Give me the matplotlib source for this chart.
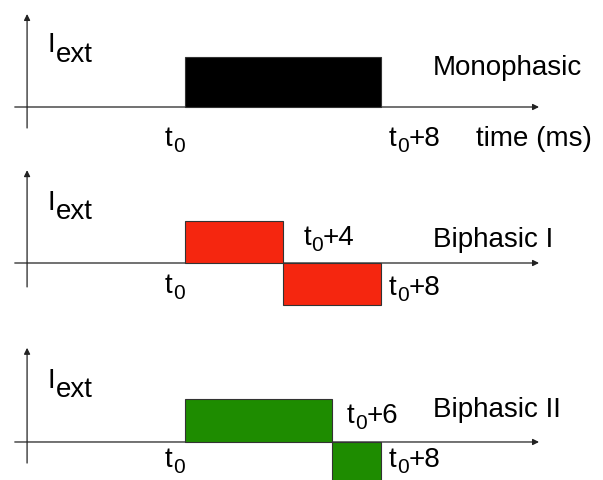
import numpy as np
import matplotlib
matplotlib.use('Agg')
import matplotlib.pyplot as plt

plt.rcParams['font.family'] = 'Liberation Sans'

# pulse shapes: phase boundaries (ms after t0) and phase amplitudes (a.u.)
names = ['Monophasic', 'Biphasic I', 'Biphasic II']
edges = [[0, 8], [0, 4, 8], [0, 6, 8]]
amps = [[1], [1, -1], [1, -3]]
mid_labels = [None, '+4', '+6']
end_label = '+8'
colors = ['black', '#f5260f', '#1e8c00']

# layout per panel (amplitude units of that panel)
ylims = [(-1.06, 2.14), (-1.357, 2.452), (-0.884, 2.837)]
yax_top = [1.86, 2.21, 2.19]
yax_bot = [-0.42, -0.57, -0.49]
I_y = [1.10, 1.26, 1.26]
ext_y = [0.90, 1.05, 1.05]
name_y = [0.64, 0.38, 0.58]
mid_pos = [None, (4.82, 0.43), (6.6, 0.44)]
t0_y = [-0.78, -0.71, -0.58]
end_y = [-0.78, -0.76, -0.58]

fs = 20
sub_fs = 15
axis_kw = dict(arrowstyle='-|>', color='#222222', lw=0.9,
               mutation_scale=9, shrinkA=0, shrinkB=0)


def t_label(ax, x, y, suffix=''):
    # "t" with a subscript 0, then an optional "+n"
    ax.text(x, y, 't', fontsize=fs, va='baseline')
    ax.annotate('0', xy=(x, y), xytext=(5.6, -4.6), textcoords='offset points',
                fontsize=sub_fs, va='baseline')
    if suffix:
        ax.annotate(suffix, xy=(x, y), xytext=(5.6 + 8.4, 0),
                    textcoords='offset points', fontsize=fs, va='baseline')


fig = plt.figure(figsize=(6.03, 4.80), dpi=100)

for i in range(3):
    ax = fig.add_axes([0, 1 - (i + 1) / 3, 1, 1 / 3])
    ax.set_xlim(-7.5, 17.0)
    ax.set_ylim(*ylims[i])
    ax.axis('off')

    # axes with arrows
    ax.annotate('', xy=(14.4, 0), xytext=(-6.9, 0), arrowprops=axis_kw, zorder=1)
    ax.annotate('', xy=(-6.4, yax_top[i]), xytext=(-6.4, yax_bot[i]),
                arrowprops=axis_kw, zorder=1)

    # the pulse phases
    left = edges[i][:-1]
    widths = np.diff(edges[i])
    ax.bar(left, amps[i], width=widths, align='edge', color=colors[i],
           edgecolor='#333333', linewidth=0.8, zorder=2)

    ax.text(-5.55, I_y[i], 'I', fontsize=fs, va='baseline')
    ax.text(-5.23, ext_y[i], 'ext', fontsize=fs, va='baseline')
    ax.text(10.1, name_y[i], names[i], fontsize=fs, va='baseline')
    t_label(ax, -0.8, t0_y[i])
    t_label(ax, 8.3, end_y[i], end_label)
    if mid_labels[i]:
        t_label(ax, mid_pos[i][0], mid_pos[i][1], mid_labels[i])
    if i == 0:
        ax.text(11.85, t0_y[i], 'time (ms)', fontsize=fs, va='baseline')

fig.savefig('out.png', dpi=100)
